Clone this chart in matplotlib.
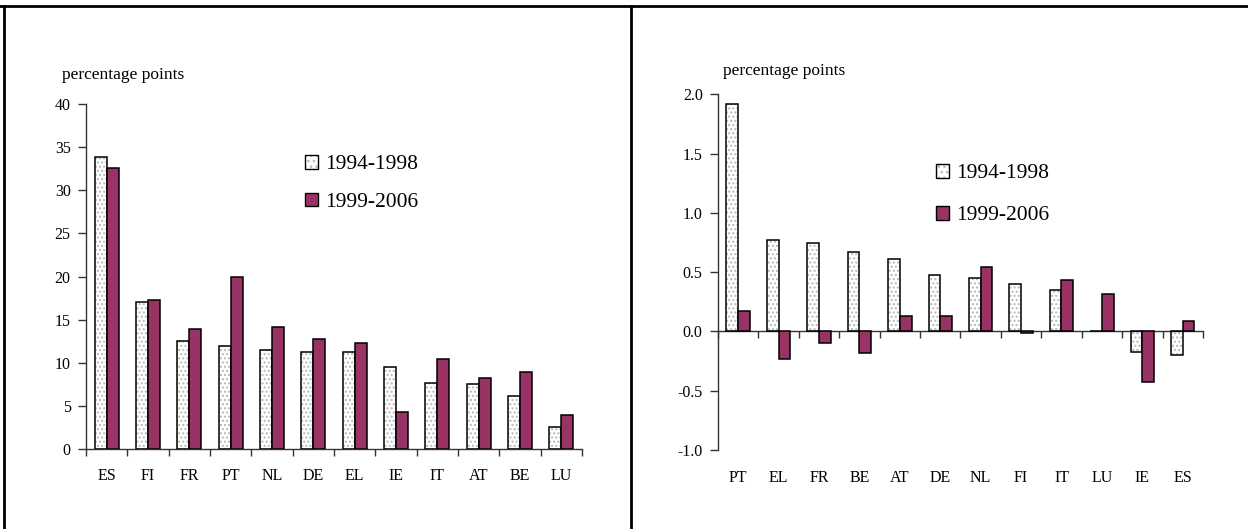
import numpy as np
import matplotlib.pyplot as plt
from matplotlib.lines import Line2D
from matplotlib.patches import Patch
from matplotlib.legend_handler import HandlerTuple

plt.rcParams['font.family'] = ['Liberation Serif', 'DejaVu Serif']
plt.rcParams['axes.unicode_minus'] = False

# left panel: cumulative change, percentage points
left_countries = ['ES', 'FI', 'FR', 'PT', 'NL', 'DE', 'EL', 'IE', 'IT', 'AT', 'BE', 'LU']
left_9498 = [33.8, 17.1, 12.5, 12.0, 11.5, 11.2, 11.2, 9.5, 7.6, 7.5, 6.1, 2.6]
left_9906 = [32.6, 17.3, 13.9, 19.9, 14.2, 12.8, 12.3, 4.3, 10.4, 8.2, 8.9, 4.0]

# right panel: annual change, percentage points
right_countries = ['PT', 'EL', 'FR', 'BE', 'AT', 'DE', 'NL', 'FI', 'IT', 'LU', 'IE', 'ES']
right_9498 = [1.92, 0.77, 0.75, 0.67, 0.61, 0.48, 0.45, 0.40, 0.35, 0.0, -0.17, -0.20]
right_9906 = [0.17, -0.23, -0.10, -0.18, 0.13, 0.13, 0.54, -0.01, 0.43, 0.32, -0.43, 0.09]

period_labels = ['1994-1998', '1999-2006']
plum = '#993366'
dot_grey = '#b8b8b8'
bar_w = 0.29

fig = plt.figure(figsize=(12.48, 5.29), dpi=100)
ax1 = fig.add_axes([0.0689, 0.1512, 0.3974, 0.6522])
ax2 = fig.add_axes([0.5753, 0.1493, 0.3886, 0.6724])


def draw_panel(ax, countries, first, second):
    x = np.arange(len(countries))
    # dotted fill first, black outline on top
    ax.bar(x - bar_w / 2, first, bar_w, color='white', edgecolor=dot_grey,
           hatch='....', linewidth=0, zorder=2)
    ax.bar(x - bar_w / 2, first, bar_w, fill=False, edgecolor='black',
           linewidth=1.1, zorder=3)
    ax.bar(x + bar_w / 2, second, bar_w, color=plum, edgecolor='black',
           linewidth=1.1, zorder=3)
    ax.set_xlim(-0.5, len(countries) - 0.5)
    ax.set_xticks(np.arange(len(countries) + 1) - 0.5)
    ax.set_xticklabels([])
    ax.tick_params(axis='x', direction='out', length=5, width=1, color='#333333')
    ax.tick_params(axis='y', direction='out', length=6, width=1, color='#333333',
                   labelsize=11.5, pad=5)
    for side in ['top', 'right']:
        ax.spines[side].set_visible(False)
    for side in ['left', 'bottom']:
        ax.spines[side].set_color('#333333')
        ax.spines[side].set_linewidth(1)
    # country names sit below the plot area
    for xi, name in zip(x, countries):
        ax.text(xi, -0.078, name, transform=ax.get_xaxis_transform(),
                ha='center', va='center', fontsize=11.5)


draw_panel(ax1, left_countries, left_9498, left_9906)
ax1.set_ylim(0, 40)
ax1.set_yticks(np.arange(0, 41, 5))

draw_panel(ax2, right_countries, right_9498, right_9906)
ax2.set_ylim(-1.0, 2.0)
ax2.set_yticks(np.arange(-1.0, 2.01, 0.5))
ax2.yaxis.set_major_formatter(plt.FormatStrFormatter('%.1f'))
ax2.spines['bottom'].set_position(('data', 0))

fig.text(62 / 1248, 1 - 75 / 529, 'percentage points', fontsize=12.5, va='center')
fig.text(723 / 1248, 1 - 71 / 529, 'percentage points', fontsize=12.5, va='center')

dotted_key = (Patch(facecolor='white', edgecolor=dot_grey, hatch='...', linewidth=0),
              Patch(fill=False, edgecolor='black', linewidth=1))
plum_key = Patch(facecolor=plum, edgecolor='black', linewidth=1)
legend_spots = [(ax1, (305 / 1248, 1 - 155 / 529), 0.85),
                (ax2, (936 / 1248, 1 - 164 / 529), 1.05)]
for ax, anchor, spacing in legend_spots:
    ax.legend([dotted_key, plum_key], period_labels, loc='upper left',
              bbox_to_anchor=anchor, bbox_transform=fig.transFigure,
              handler_map={tuple: HandlerTuple(ndivide=1)},
              frameon=False, fontsize=15.5,
              handlelength=0.6, handleheight=0.6, handletextpad=0.35,
              labelspacing=spacing, borderaxespad=0, borderpad=0)

# panel frame lines
frame_kw = dict(color='black', linewidth=2, transform=fig.transFigure)
fig.add_artist(Line2D([0, 1], [1 - 5.5 / 529, 1 - 5.5 / 529], **frame_kw))
fig.add_artist(Line2D([3.5 / 1248, 3.5 / 1248], [0, 1 - 5.5 / 529], **frame_kw))
fig.add_artist(Line2D([631 / 1248, 631 / 1248], [0, 1 - 5.5 / 529], **frame_kw))

fig.savefig('out.png', dpi=100)
